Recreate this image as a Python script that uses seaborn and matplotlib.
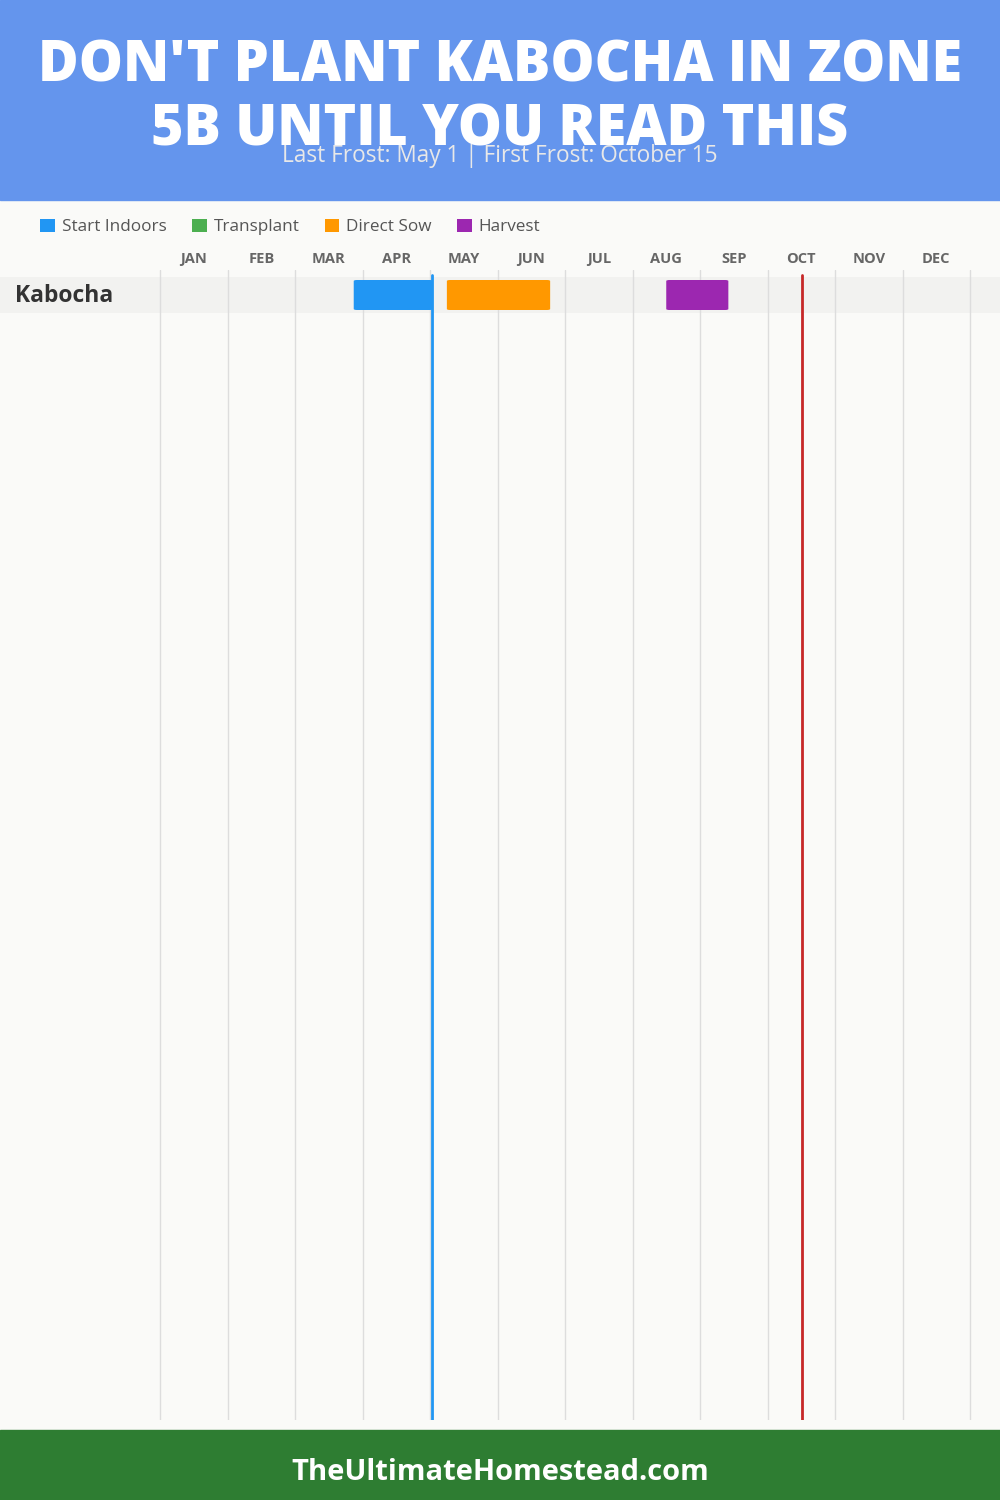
import matplotlib.pyplot as plt
import seaborn as sns
from matplotlib.patches import Rectangle, Patch, FancyBboxPatch

# 数据
months = ['JAN', 'FEB', 'MAR', 'APR', 'MAY', 'JUN', 'JUL', 'AUG', 'SEP', 'OCT', 'NOV', 'DEC']
crops = ['Kabocha']
stages = ['Start Indoors', 'Transplant', 'Direct Sow', 'Harvest']
stage_colors = ['#2196F3', '#4CAF50', '#FF9800', '#9C27B0']
# 每个阶段的起止（以月为单位，0 = 1月1日）
bar_crop = ['Kabocha', 'Kabocha', 'Kabocha']
bar_stage = ['Start Indoors', 'Direct Sow', 'Harvest']
bar_start = [2.87, 4.25, 7.50]
bar_end = [4.04, 5.78, 8.42]
last_frost = 4.03   # May 1
first_frost = 9.51  # October 15

title = "DON'T PLANT KABOCHA IN ZONE\n5B UNTIL YOU READ THIS"
subtitle = 'Last Frost: May 1 | First Frost: October 15'
footer = 'TheUltimateHomestead.com'

sns.set_theme(style='white')
plt.rcParams['font.family'] = ['Open Sans', 'DejaVu Sans']

W, H = 1000, 1500
fig = plt.figure(figsize=(W / 100, H / 100), dpi=100, facecolor='#FAFAF8')

# 页眉和页脚
fig.patches.append(Rectangle((0, 1 - 200 / H), 1, 200 / H, transform=fig.transFigure,
                             color='#6495ED', zorder=0))
fig.patches.append(Rectangle((0, 0), 1, 70 / H, transform=fig.transFigure,
                             color='#2E7D32', zorder=0))
fig.text(0.5, 1 - 99 / H, title, ha='center', va='center', color='white',
         fontsize=40, fontweight='heavy', linespacing=1.15)
fig.text(0.5, 1 - 156 / H, subtitle, ha='center', va='center', color='#E8E8E8',
         fontsize=16.3)
fig.text(0.5, 1 - 1473 / H, footer, ha='center', va='center', color='white',
         fontsize=21, fontweight='bold')

# 主图区域：整幅宽度，月份 0 位于 160px，每月 67.5px
px_month = 67.5
top_px, bot_px = 270, 1420
ax = fig.add_axes([0, 1 - bot_px / H, 1, (bot_px - top_px) / H])
ax.set_facecolor('none')
ax.set_xlim(-160 / px_month, (W - 160) / px_month)
row_px = 36
ax.set_ylim((bot_px - 295) / row_px, -(295 - top_px) / row_px)
ax.axis('off')

# 行背景
for i, crop in enumerate(crops):
    ax.axhspan(i - 0.5, i + 0.5, color='#F2F2F0', zorder=1, lw=0)
    ax.text(-145 / px_month, i + 0.03, crop, ha='left', va='center', fontsize=16.5,
            fontweight='bold', color='#333333', zorder=5)

# 月份网格线
for m in range(len(months) + 1):
    ax.axvline(m, color='#DDDDDD', lw=1, zorder=2)
for m, name in enumerate(months):
    ax.text(m + 0.5, -(295 - 259) / row_px, name, ha='center', va='center',
            fontsize=10.5, fontweight='bold', color='#666666')

# 阶段条
color_map = dict(zip(stages, stage_colors))
for crop, stage, s, e in zip(bar_crop, bar_stage, bar_start, bar_end):
    y = crops.index(crop)
    h = 30 / row_px
    ax.add_patch(FancyBboxPatch((s, y - h / 2), e - s, h,
                                boxstyle='round,pad=0,rounding_size=0.05',
                                mutation_aspect=row_px / px_month,
                                facecolor=color_map[stage], edgecolor='none', zorder=3))

# 霜冻线
frost_top = -(295 - 275) / row_px
ax.plot([last_frost, last_frost], [frost_top, ax.get_ylim()[0]], color='#2196F3', lw=2, zorder=4)
ax.plot([first_frost, first_frost], [frost_top, ax.get_ylim()[0]], color='#C62828', lw=2, zorder=4)

# 图例
handles = [Patch(facecolor=c, edgecolor='none', label=s) for s, c in zip(stages, stage_colors)]
fig.legend(handles=handles, loc='center left', bbox_to_anchor=(25 / W, 1 - 227 / H),
           ncol=4, frameon=False, fontsize=12.3, handlelength=0.85, handleheight=0.85,
           handletextpad=0.4, columnspacing=1.5, labelcolor='#555555')

plt.savefig('out.png', dpi=100, facecolor=fig.get_facecolor())
